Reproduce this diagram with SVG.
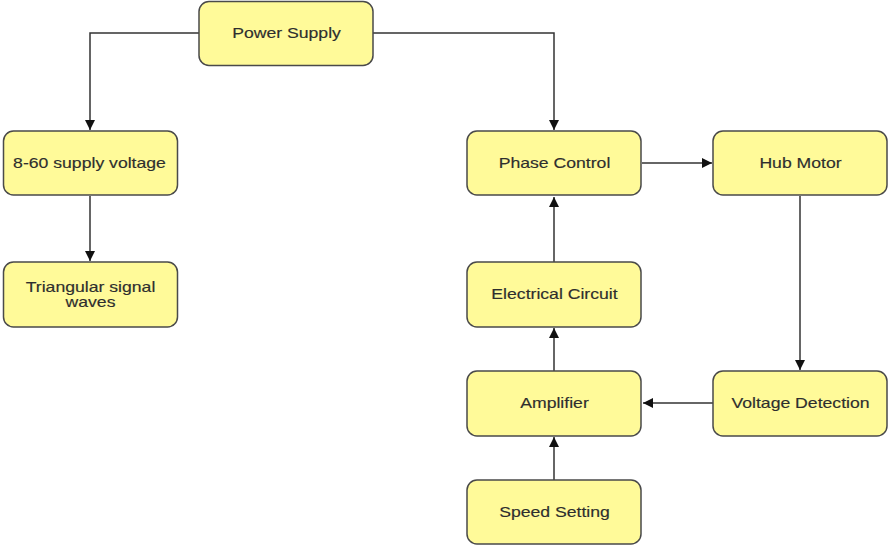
<svg xmlns="http://www.w3.org/2000/svg" width="889" height="546" viewBox="0 0 889 546">
<style>
.n rect{fill:#FFFA99;stroke:#4a4a4a;stroke-width:1.5}
.n text{font-family:"Liberation Sans",Arial,sans-serif;font-size:14px;fill:#2e2e2e;stroke:#2e2e2e;stroke-width:0.15;text-anchor:middle}
.c path{fill:none;stroke:#333;stroke-width:1.5}
</style>
<defs>
<marker id="a" viewBox="0 0 10 10" refX="10" refY="5" markerWidth="10" markerHeight="10" markerUnits="userSpaceOnUse" orient="auto">
<path d="M0,0 L10,5 L0,10 Z" fill="#111"/>
</marker>
</defs>
<rect width="889" height="546" fill="#fff"/>
<g class="c">
<path d="M199,33 H90 V130" marker-end="url(#a)"/>
<path d="M373,33 H554 V130" marker-end="url(#a)"/>
<path d="M90,196 V261" marker-end="url(#a)"/>
<path d="M642,163 H712" marker-end="url(#a)"/>
<path d="M800,196 V370" marker-end="url(#a)"/>
<path d="M713,403 H643" marker-end="url(#a)"/>
<path d="M554,371 V328" marker-end="url(#a)"/>
<path d="M554,262 V197" marker-end="url(#a)"/>
<path d="M554,480 V437" marker-end="url(#a)"/>
</g>
<g id="power" class="n"><rect x="199" y="1.5" width="174" height="64" rx="10"/><text transform="translate(286.5,38) scale(1.26,1)">Power Supply</text></g>
<g id="supply" class="n"><rect x="3.5" y="131" width="174" height="64" rx="10"/><text transform="translate(89.5,168) scale(1.26,1)">8-60 supply voltage</text></g>
<g id="tri" class="n"><rect x="3.5" y="262" width="174" height="65" rx="10"/><text transform="translate(90.5,292) scale(1.26,1)">Triangular signal</text><text transform="translate(90.5,307) scale(1.26,1)">waves</text></g>
<g id="phase" class="n"><rect x="467" y="131" width="174" height="64" rx="10"/><text transform="translate(554.5,168) scale(1.26,1)">Phase Control</text></g>
<g id="hub" class="n"><rect x="713" y="131" width="174" height="64" rx="10"/><text transform="translate(800.5,168) scale(1.26,1)">Hub Motor</text></g>
<g id="elec" class="n"><rect x="467" y="262" width="174" height="65" rx="10"/><text transform="translate(554.5,299) scale(1.26,1)">Electrical Circuit</text></g>
<g id="amp" class="n"><rect x="467" y="371" width="174" height="65" rx="10"/><text transform="translate(554.5,408) scale(1.26,1)">Amplifier</text></g>
<g id="volt" class="n"><rect x="713" y="371" width="174" height="65" rx="10"/><text transform="translate(800.5,408) scale(1.26,1)">Voltage Detection</text></g>
<g id="speed" class="n"><rect x="467" y="480" width="174" height="64" rx="10"/><text transform="translate(554.5,517) scale(1.26,1)">Speed Setting</text></g>
</svg>
